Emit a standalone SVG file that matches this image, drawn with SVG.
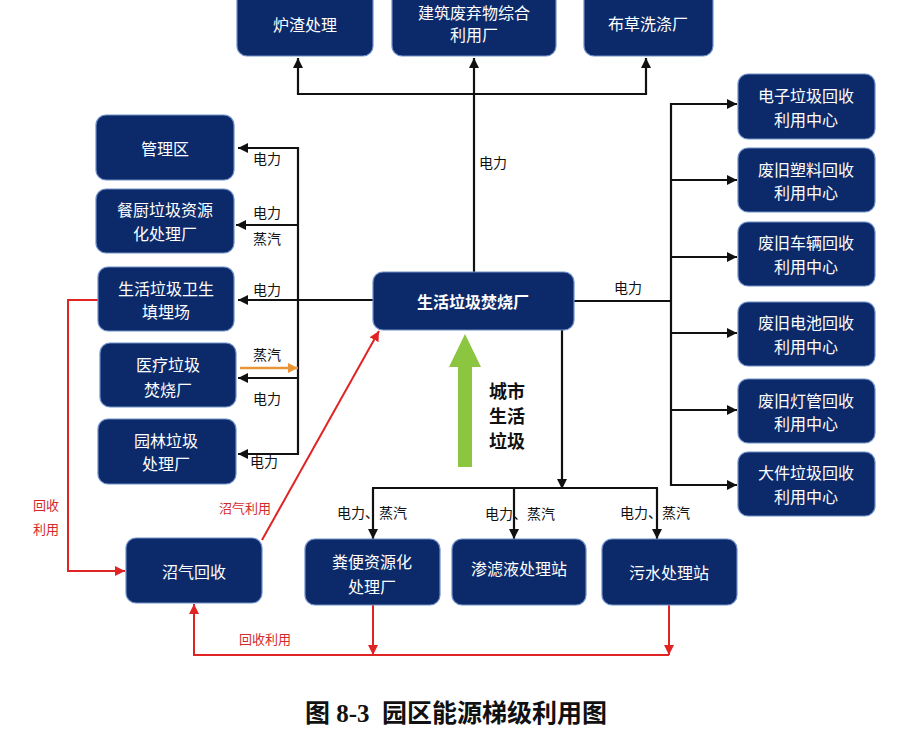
<svg xmlns="http://www.w3.org/2000/svg" width="912" height="737" viewBox="0 0 912 737">
<style>
.box{fill:#0c2a6a;stroke:#6f8fc8;stroke-width:1.2}
.bt{font-family:"Noto Sans CJK SC","Liberation Sans",sans-serif;font-size:16px;fill:#ffffff;text-anchor:middle}
.lb{font-family:"Noto Sans CJK SC","Liberation Sans",sans-serif;font-size:14px;fill:#111111}
.rl{font-family:"Noto Sans CJK SC","Liberation Sans",sans-serif;font-size:13px;fill:#d42a2a}
.k{fill:none;stroke:#111111;stroke-width:2.2}
.r{fill:none;stroke:#e02424;stroke-width:2}
.o{fill:none;stroke:#e8953a;stroke-width:2.4}
</style>
<defs>
<marker id="ak" viewBox="0 0 10 10" refX="10" refY="5" markerWidth="10" markerHeight="10" markerUnits="userSpaceOnUse" orient="auto"><path d="M0,0 L10,5 L0,10 z" fill="#111111"/></marker>
<marker id="ar" viewBox="0 0 10 10" refX="10" refY="5" markerWidth="10" markerHeight="10" markerUnits="userSpaceOnUse" orient="auto"><path d="M0,0 L10,5 L0,10 z" fill="#e02424"/></marker>
<marker id="ao" viewBox="0 0 10 10" refX="10" refY="5" markerWidth="10" markerHeight="10" markerUnits="userSpaceOnUse" orient="auto"><path d="M0,0 L10,5 L0,10 z" fill="#e8953a"/></marker>
</defs>
<rect width="912" height="737" fill="#ffffff"/>

<g id="connectors">
<path class="k" d="M474,272 V58" marker-end="url(#ak)"/>
<path class="k" d="M474,94 H298 V58" marker-end="url(#ak)"/>
<path class="k" d="M474,94 H646 V58" marker-end="url(#ak)"/>
<path class="k" d="M373,300 H238" marker-end="url(#ak)"/>
<path class="k" d="M298,147 V455"/>
<path class="k" d="M298,148 H238" marker-end="url(#ak)"/>
<path class="k" d="M298,225 H236" marker-end="url(#ak)"/>
<path class="k" d="M298,378 H238" marker-end="url(#ak)"/>
<path class="k" d="M298,454 H238" marker-end="url(#ak)"/>
<path class="o" d="M240,368 H298" marker-end="url(#ao)"/>
<path class="k" d="M574,301 H671"/>
<path class="k" d="M671,103 V486"/>
<path class="k" d="M671,104 H737" marker-end="url(#ak)"/>
<path class="k" d="M671,180 H737" marker-end="url(#ak)"/>
<path class="k" d="M671,257 H737" marker-end="url(#ak)"/>
<path class="k" d="M671,333 H737" marker-end="url(#ak)"/>
<path class="k" d="M671,410 H737" marker-end="url(#ak)"/>
<path class="k" d="M671,485 H737" marker-end="url(#ak)"/>
<path class="k" d="M562,330 V489" marker-end="url(#ak)"/>
<path class="k" d="M372,488 H658"/>
<path class="k" d="M373,488 V539" marker-end="url(#ak)"/>
<path class="k" d="M514,488 V539" marker-end="url(#ak)"/>
<path class="k" d="M657,488 V539" marker-end="url(#ak)"/>
<path class="r" d="M98,300 H68 V571 H125" marker-end="url(#ar)"/>
<path class="r" d="M262,540 L379,331" marker-end="url(#ar)"/>
<path class="r" d="M373,605 V655" marker-end="url(#ar)"/>
<path class="r" d="M669,605 V655" marker-end="url(#ar)"/>
<path class="r" d="M669,655 H194 V604" marker-end="url(#ar)"/>
<polygon points="465,334 481,367 472,367 472,467 458,467 458,367 449,367" fill="#8cc540"/>
</g>

<g id="labels">
<text class="lb" x="479" y="168">电力</text>
<text class="lb" x="253" y="164">电力</text>
<text class="lb" x="253" y="218">电力</text>
<text class="lb" x="253" y="244">蒸汽</text>
<text class="lb" x="253" y="295">电力</text>
<text class="lb" x="253" y="360">蒸汽</text>
<text class="lb" x="253" y="404">电力</text>
<text class="lb" x="250" y="467">电力</text>
<text class="lb" x="614" y="293">电力</text>
<text class="lb" x="337" y="518">电力、蒸汽</text>
<text class="lb" x="485" y="519">电力、蒸汽</text>
<text class="lb" x="620" y="518">电力、蒸汽</text>
<text class="rl" x="33" y="510">回收</text>
<text class="rl" x="33" y="534">利用</text>
<text class="rl" x="219" y="513">沼气利用</text>
<text class="rl" x="239" y="644">回收利用</text>
<g font-family="Noto Sans CJK SC,Liberation Sans,sans-serif" font-size="18" font-weight="bold" fill="#111111">
<text x="489" y="398">城市</text>
<text x="489" y="423">生活</text>
<text x="489" y="448">垃圾</text>
</g>
</g>

<g id="n-luzha"><rect class="box" x="237" y="-12" width="136" height="68" rx="10"/><text class="bt" x="305" y="31">炉渣处理</text></g>
<g id="n-jianzhu"><rect class="box" x="392" y="-12" width="164" height="68" rx="10"/><text class="bt" x="474" y="19">建筑废弃物综合</text><text class="bt" x="474" y="41">利用厂</text></g>
<g id="n-bucao"><rect class="box" x="584" y="-12" width="129" height="68" rx="10"/><text class="bt" x="648" y="30">布草洗涤厂</text></g>

<g id="n-guanli"><rect class="box" x="96" y="115" width="138" height="65" rx="10"/><text class="bt" x="165" y="155">管理区</text></g>
<g id="n-canchu"><rect class="box" x="96" y="189" width="138" height="64" rx="10"/><text class="bt" x="165" y="216">餐厨垃圾资源</text><text class="bt" x="165" y="240">化处理厂</text></g>
<g id="n-tianmai"><rect class="box" x="98" y="267" width="136" height="64" rx="10"/><text class="bt" x="166" y="295">生活垃圾卫生</text><text class="bt" x="166" y="318">填埋场</text></g>
<g id="n-yiliao"><rect class="box" x="100" y="343" width="136" height="64" rx="10"/><text class="bt" x="168" y="371">医疗垃圾</text><text class="bt" x="168" y="396">焚烧厂</text></g>
<g id="n-yuanlin"><rect class="box" x="98" y="419" width="138" height="65" rx="10"/><text class="bt" x="166" y="447">园林垃圾</text><text class="bt" x="166" y="470">处理厂</text></g>

<g id="n-center"><rect class="box" x="373" y="272" width="201" height="58" rx="10"/><text class="bt" x="473" y="308" font-weight="bold">生活垃圾焚烧厂</text></g>

<g id="n-dianzi"><rect class="box" x="738" y="74" width="137" height="65" rx="10"/><text class="bt" x="806" y="102">电子垃圾回收</text><text class="bt" x="806" y="126">利用中心</text></g>
<g id="n-suliao"><rect class="box" x="738" y="148" width="137" height="64" rx="10"/><text class="bt" x="806" y="176">废旧塑料回收</text><text class="bt" x="806" y="199">利用中心</text></g>
<g id="n-cheliang"><rect class="box" x="738" y="222" width="137" height="64" rx="10"/><text class="bt" x="806" y="249">废旧车辆回收</text><text class="bt" x="806" y="273">利用中心</text></g>
<g id="n-dianchi"><rect class="box" x="738" y="302" width="137" height="64" rx="10"/><text class="bt" x="806" y="329">废旧电池回收</text><text class="bt" x="806" y="353">利用中心</text></g>
<g id="n-dengguan"><rect class="box" x="738" y="379" width="137" height="64" rx="10"/><text class="bt" x="806" y="407">废旧灯管回收</text><text class="bt" x="806" y="430">利用中心</text></g>
<g id="n-dajian"><rect class="box" x="738" y="452" width="137" height="64" rx="10"/><text class="bt" x="806" y="479">大件垃圾回收</text><text class="bt" x="806" y="503">利用中心</text></g>

<g id="n-zhaoqi"><rect class="box" x="126" y="538" width="136" height="65" rx="10"/><text class="bt" x="194" y="578">沼气回收</text></g>
<g id="n-fenbian"><rect class="box" x="305" y="539" width="135" height="66" rx="10"/><text class="bt" x="372" y="568">粪便资源化</text><text class="bt" x="372" y="593">处理厂</text></g>
<g id="n-shenlv"><rect class="box" x="452" y="539" width="134" height="66" rx="10"/><text class="bt" x="519" y="575">渗滤液处理站</text></g>
<g id="n-wushui"><rect class="box" x="602" y="539" width="135" height="66" rx="10"/><text class="bt" x="669" y="579">污水处理站</text></g>

<text x="305" y="722" font-family="Liberation Serif,Noto Sans CJK SC,serif" font-size="25" font-weight="bold" fill="#111111" xml:space="preserve">图 8-3  园区能源梯级利用图</text>
</svg>
